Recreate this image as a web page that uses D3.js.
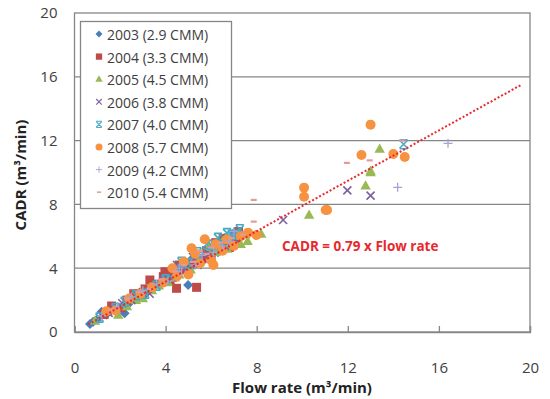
<!DOCTYPE html>
<html>
<head>
<meta charset="utf-8">
<script src="https://cdn.jsdelivr.net/npm/d3@7"></script>
<style>
  body { margin: 0; background: #fff; }
  svg text { font-family: "Open Sans", "Noto Sans", sans-serif; }
</style>
</head>
<body>
<div id="chart"></div>
<script>
// tick labels
const xTicks = [0, 4, 8, 12, 16, 20];
const yTicks = [0, 4, 8, 12, 16, 20];

// series, [flow rate, CADR]
const s2003 = [[0.68,0.5],[0.82,0.65],[1.0,0.8],[1.19,1.27],[1.4,1.1],[1.6,1.35],[2.2,1.17],[2.4,1.8],[2.6,2.1],[2.8,2.2],[3.0,2.3],[3.2,2.6],[3.5,2.8],[3.8,3.1],[4.2,3.4],[4.3,3.9],[4.5,3.5],[4.99,2.95],[5.1,4.5],[5.3,4.3],[5.6,4.4],[5.8,4.8],[6.0,5.3],[6.3,5.0],[6.6,5.9],[6.9,5.6],[7.0,6.2]];
const s2004 = [[1.3,1.1],[1.63,1.63],[2.07,1.52],[2.3,2.0],[2.6,2.4],[2.9,2.3],[3.1,2.7],[3.31,3.26],[3.5,3.0],[3.9,3.47],[3.97,3.78],[4.2,3.2],[4.2,3.6],[4.48,2.74],[4.6,4.2],[4.7,3.9],[5.0,4.0],[5.2,4.3],[5.36,2.8],[5.6,4.6],[5.8,5.1],[6.0,4.9],[6.2,5.6],[6.53,5.87],[6.8,5.3],[7.1,5.6],[7.2,6.3]];
const s2005 = [[0.9,0.7],[1.92,1.07],[2.3,1.6],[2.7,2.0],[3.0,2.1],[3.4,2.6],[3.7,2.9],[4.1,3.1],[4.4,3.4],[4.6,3.6],[5.1,3.9],[5.3,4.8],[5.5,4.4],[5.9,5.3],[6.2,5.0],[6.5,5.7],[6.7,5.2],[7.0,6.0],[7.3,5.5],[7.5,6.1],[7.6,5.7],[8.2,6.14],[10.3,7.34],[12.78,9.17],[13.0,10.0],[13.0,10.1],[13.4,11.47]];
const s2006 = [[1.5,1.2],[2.1,1.8],[2.5,2.0],[3.0,2.5],[3.3,2.4],[3.9,3.3],[4.3,3.4],[4.5,4.2],[4.8,3.9],[5.2,4.7],[5.4,4.2],[5.9,4.9],[6.3,5.5],[6.6,5.4],[7.0,5.9],[7.1,6.0],[9.16,7.02],[11.98,8.88],[13.0,8.55]];
const s2007 = [[1.1,0.9],[1.8,1.5],[2.2,1.9],[2.7,2.3],[3.1,2.4],[3.6,2.9],[4.0,3.3],[4.4,3.7],[4.7,4.4],[5.0,4.3],[5.4,5.0],[5.5,4.7],[5.8,5.5],[6.02,5.45],[6.3,5.9],[6.4,5.2],[6.7,6.2],[6.9,6.1],[7.1,6.1],[7.26,6.44],[14.45,11.77]];
const s2008 = [[1.4,1.3],[1.8,1.35],[2.4,2.1],[2.9,2.4],[3.4,2.8],[3.9,3.1],[4.3,4.0],[4.5,3.5],[4.8,4.4],[5.0,3.6],[5.14,5.25],[5.3,4.9],[5.5,4.3],[5.72,5.81],[6.0,4.5],[6.1,4.2],[6.2,5.5],[6.5,5.1],[6.7,5.8],[7.0,5.4],[7.3,6.0],[7.62,6.23],[7.99,6.08],[10.08,9.05],[10.08,8.48],[11.03,7.65],[11.09,7.65],[12.6,11.1],[13.0,13.0],[14.0,11.16],[14.5,10.97]];
const s2009 = [[1.2,1.0],[1.9,1.6],[2.5,2.2],[3.0,2.6],[3.6,3.0],[4.1,3.2],[4.6,4.0],[4.7,3.8],[5.3,4.2],[5.6,4.8],[6.1,5.0],[6.5,5.4],[6.8,5.7],[7.0,6.3],[14.19,9.07],[16.4,11.83]];
const s2010 = [[1.6,1.4],[2.3,2.1],[2.8,2.5],[3.3,2.7],[3.8,3.3],[4.4,3.8],[4.8,4.2],[5.2,4.4],[5.5,5.1],[5.8,4.9],[6.0,5.3],[6.4,5.6],[6.9,5.9],[7.4,6.1],[7.87,8.28],[7.87,6.92],[11.96,10.6],[12.96,10.76],[14.4,12.0]];

const labels = ['2003 (2.9 CMM)', '2004 (3.3 CMM)', '2005 (4.5 CMM)', '2006 (3.8 CMM)',
  '2007 (4.0 CMM)', '2008 (5.7 CMM)', '2009 (4.2 CMM)', '2010 (5.4 CMM)'];

// trend line CADR = 0.79 x Flow rate
const slope = 0.79;
const trendRange = [0.6, 19.6];

const series = [
  { name: labels[0], data: s2003, color: '#4a7ebb', shape: 'diamond' },
  { name: labels[1], data: s2004, color: '#be4b48', shape: 'square' },
  { name: labels[2], data: s2005, color: '#98b954', shape: 'triangle' },
  { name: labels[3], data: s2006, color: '#7d60a0', shape: 'x' },
  { name: labels[4], data: s2007, color: '#46aac5', shape: 'star' },
  { name: labels[5], data: s2008, color: '#f69240', shape: 'circle' },
  { name: labels[6], data: s2009, color: '#a3a3d6', shape: 'plus' },
  { name: labels[7], data: s2010, color: '#e59a9a', shape: 'dash' }
];

const width = 550, height = 399;
const x = d3.scaleLinear().domain([0, 20]).range([74.5, 530]);
const y = d3.scaleLinear().domain([0, 20]).range([332, 13]);

const svg = d3.select('#chart').append('svg')
  .attr('width', width)
  .attr('height', height);

// gridlines
svg.append('g')
  .selectAll('line')
  .data(yTicks.filter(d => d > 0 && d < 20))
  .join('line')
  .attr('x1', x(0)).attr('x2', x(20))
  .attr('y1', d => y(d)).attr('y2', d => y(d))
  .attr('stroke', '#868686').attr('stroke-width', 1.3);

// frame
svg.append('rect')
  .attr('x', x(0)).attr('y', y(20))
  .attr('width', x(20) - x(0)).attr('height', y(0) - y(20))
  .attr('fill', 'none').attr('stroke', '#868686').attr('stroke-width', 1.3);

// x axis ticks pointing inward
svg.append('g')
  .attr('transform', 'translate(0,' + y(0) + ')')
  .call(d3.axisBottom(x).tickValues(xTicks).tickSize(-6).tickPadding(30).tickFormat(d3.format('d')))
  .call(g => g.select('.domain').attr('stroke', '#868686').attr('stroke-width', 1.3))
  .call(g => g.selectAll('.tick line').attr('stroke', '#868686').attr('stroke-width', 1.3))
  .call(g => g.selectAll('.tick text').attr('font-size', 15).attr('fill', '#404040'));

// y axis labels
svg.append('g')
  .attr('transform', 'translate(' + x(0) + ',0)')
  .call(d3.axisLeft(y).tickValues(yTicks).tickSize(0).tickPadding(17).tickFormat(d3.format('d')))
  .call(g => g.select('.domain').remove())
  .call(g => g.selectAll('.tick text').attr('font-size', 15).attr('fill', '#404040'));

// axis titles
svg.append('text')
  .attr('x', 302).attr('y', 393)
  .attr('text-anchor', 'middle')
  .attr('font-size', 15).attr('font-weight', 'bold').attr('fill', '#222')
  .text('Flow rate (m³/min)');

svg.append('text')
  .attr('transform', 'translate(26,175) rotate(-90)')
  .attr('text-anchor', 'middle')
  .attr('font-size', 15).attr('font-weight', 'bold').attr('fill', '#222')
  .text('CADR (m³/min)');

function marker(sel, shape, color) {
  if (shape === 'diamond') {
    sel.append('path').attr('d', 'M0,-5L5,0L0,5L-5,0Z').attr('fill', color);
  } else if (shape === 'square') {
    sel.append('rect').attr('x', -4.5).attr('y', -4.5).attr('width', 9).attr('height', 9).attr('fill', color);
  } else if (shape === 'triangle') {
    sel.append('path').attr('d', 'M0,-5.5L5.2,3.8L-5.2,3.8Z').attr('fill', color);
  } else if (shape === 'circle') {
    sel.append('circle').attr('r', 5).attr('fill', color);
  } else if (shape === 'x') {
    sel.append('path').attr('d', 'M-4,-4L4,4M-4,4L4,-4').attr('stroke', color).attr('stroke-width', 1.6);
  } else if (shape === 'star') {
    sel.append('path').attr('d', 'M-4,-4L4,4M-4,4L4,-4M-4,-4.5L4,-4.5M-4,4.5L4,4.5').attr('stroke', color).attr('stroke-width', 1.6);
  } else if (shape === 'plus') {
    sel.append('path').attr('d', 'M-4.5,0L4.5,0M0,-4.5L0,4.5').attr('stroke', color).attr('stroke-width', 1.3);
  } else if (shape === 'dash') {
    sel.append('path').attr('d', 'M-3,0L3,0').attr('stroke', color).attr('stroke-width', 2.2);
  }
}

// points
series.forEach(s => {
  svg.append('g')
    .selectAll('g')
    .data(s.data)
    .join('g')
    .attr('transform', d => 'translate(' + x(d[0]) + ',' + y(d[1]) + ')')
    .each(function () { marker(d3.select(this), s.shape, s.color); });
});

// trend line
svg.append('line')
  .attr('x1', x(trendRange[0])).attr('y1', y(trendRange[0] * slope))
  .attr('x2', x(trendRange[1])).attr('y2', y(trendRange[1] * slope))
  .attr('stroke', '#e8282e').attr('stroke-width', 2).attr('stroke-dasharray', '2,2');

svg.append('text')
  .attr('x', 282).attr('y', 251)
  .attr('font-size', 13.5).attr('font-weight', 'bold').attr('fill', '#e8282e')
  .text('CADR = 0.79 x Flow rate');

// legend
const legend = svg.append('g');
legend.append('rect')
  .attr('x', 80.5).attr('y', 21.5).attr('width', 151).attr('height', 187)
  .attr('fill', '#fff').attr('stroke', '#868686').attr('stroke-width', 1.3);

series.forEach((s, i) => {
  const row = legend.append('g').attr('transform', 'translate(0,' + (35 + i * 22.6) + ')');
  const m = row.append('g').attr('transform', 'translate(99,-1) scale(0.7)');
  marker(m, s.shape, s.color);
  row.append('text')
    .attr('x', 107).attr('y', 0).attr('dy', '0.35em')
    .attr('font-size', 14).attr('fill', '#404040')
    .text(s.name);
});
</script>
</body>
</html>
